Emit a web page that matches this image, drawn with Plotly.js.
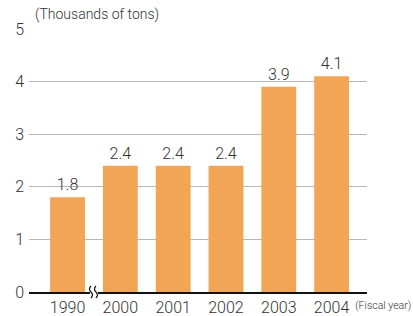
<!DOCTYPE html>
<html><head><meta charset="utf-8">
<script src="https://cdn.plot.ly/plotly-3.0.1.min.js"></script>
<style>html,body{margin:0;padding:0;background:#fff}#chart{width:413px;height:316px}</style>
</head><body><div id="chart"></div>
<script>
const years = ["1990", "2000", "2001", "2002", "2003", "2004"];
const values = [1.8, 2.4, 2.4, 2.4, 3.9, 4.1];
const valueLabels = ["1.8", "2.4", "2.4", "2.4", "3.9", "4.1"];
const yTicks = [0, 1, 2, 3, 4, 5];

const FONT = "Roboto, sans-serif";

const trace = {
  type: "bar",
  x: years,
  y: values,
  text: valueLabels,
  textposition: "outside",
  textfont: {family: FONT, size: 16, color: "#333", weight: 300},
  marker: {color: "#f1a555"},
  width: 0.66,
  cliponaxis: false,
  hoverinfo: "none"
};

function squiggle(dx) {
  return `M${dx},-6 Q${dx+3},-3 ${dx},0 Q${dx-3},3 ${dx},6`;
}

const layout = {
  width: 413, height: 316,
  margin: {l: 29, r: 46, t: 29, b: 24},
  paper_bgcolor: "#fff", plot_bgcolor: "#fff",
  showlegend: false,
  title: {text: "(Thousands of tons)", font: {family: FONT, size: 14, color: "#333", weight: 300},
          xref: "container", x: 35/413, xanchor: "left", yref: "container", y: 1 - 14/316, yanchor: "middle"},
  xaxis: {
    type: "category", range: [-0.73, 5.67],
    showline: true, linecolor: "#111", linewidth: 2,
    showgrid: false, zeroline: false, ticks: "",
    tickfont: {family: FONT, size: 16, color: "#333", weight: 300},
    fixedrange: true
  },
  yaxis: {
    range: [0, 5], tickvals: yTicks, ticktext: yTicks.map(String),
    showgrid: true, gridcolor: "#b8b8b8", gridwidth: 1,
    zeroline: false, showline: false, ticks: "",
    ticklabelstandoff: 4,
    tickfont: {family: FONT, size: 16, color: "#333", weight: 300},
    fixedrange: true
  },
  shapes: [
    {type: "rect", xref: "x", yref: "paper", xsizemode: "pixel", ysizemode: "pixel", xanchor: 0.5, yanchor: 0,
     x0: -4, x1: 4, y0: -3, y1: 3, fillcolor: "#fff", line: {width: 0}, layer: "above"},
    {type: "path", xref: "x", yref: "paper", xsizemode: "pixel", ysizemode: "pixel", xanchor: 0.5, yanchor: 0,
     path: squiggle(-3), line: {color: "#111", width: 1.2}, layer: "above"},
    {type: "path", xref: "x", yref: "paper", xsizemode: "pixel", ysizemode: "pixel", xanchor: 0.5, yanchor: 0,
     path: squiggle(2), line: {color: "#111", width: 1.2}, layer: "above"}
  ],
  annotations: [
    {text: "(Fiscal year)", xref: "paper", yref: "paper", x: (352-29)/338, y: 0, xanchor: "left", yanchor: "middle",
     yshift: -13, showarrow: false,
     font: {family: FONT, size: 11, color: "#333", weight: 300}}
  ]
};

Plotly.newPlot("chart", [trace], layout, {staticPlot: true, displayModeBar: false}).then(gd => {
  gd.querySelectorAll(".annotation-text").forEach(t => {
    t.setAttribute("textLength", "56");
    t.setAttribute("lengthAdjust", "spacingAndGlyphs");
  });
});
</script></body></html>
